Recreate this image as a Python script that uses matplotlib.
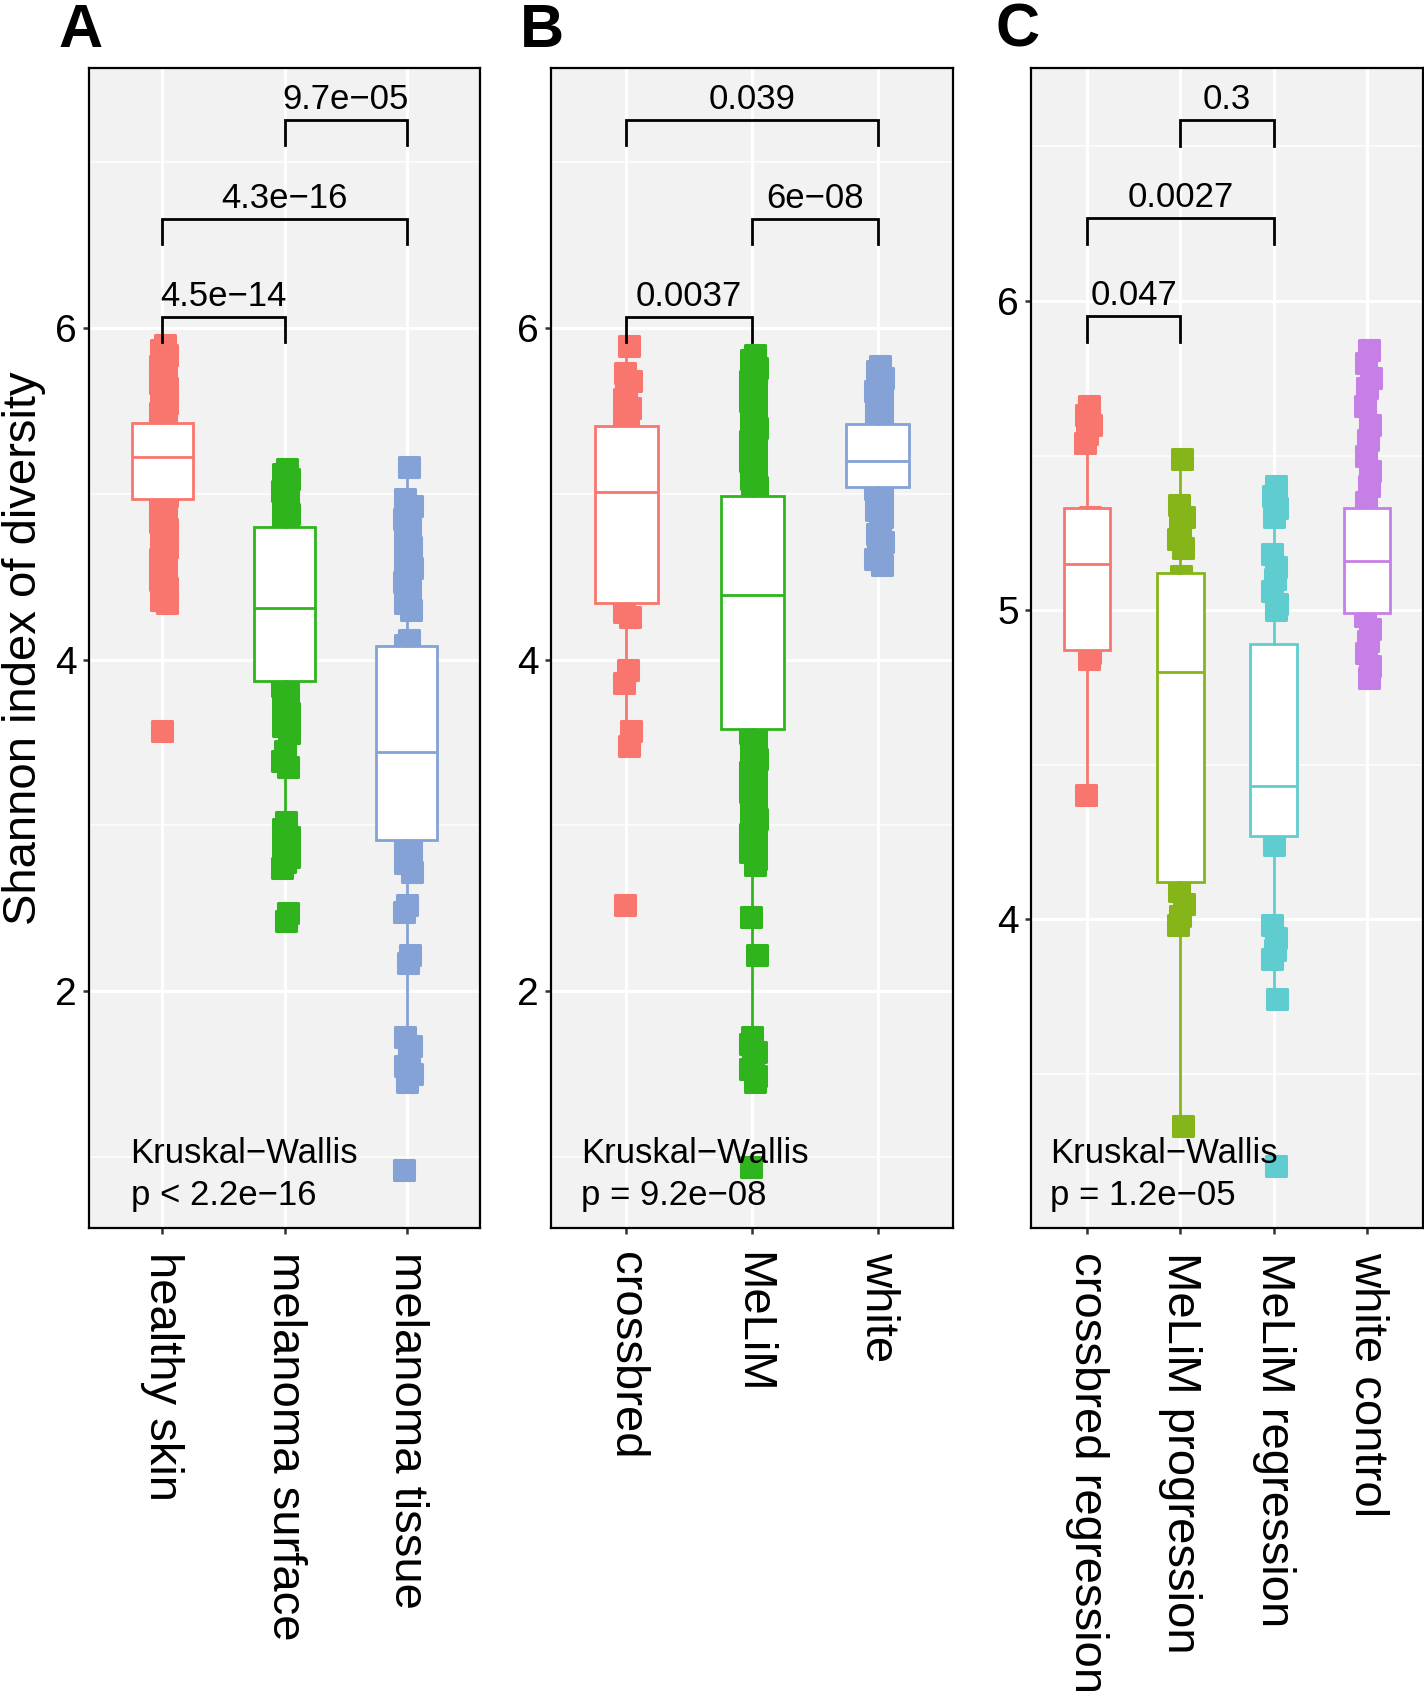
import numpy as np
import matplotlib.pyplot as plt
from matplotlib.markers import MarkerStyle

plt.rcParams['font.family'] = ['Liberation Sans', 'DejaVu Sans']

# ---------------- panel A : sample type ----------------
a_groups = ['healthy skin', 'melanoma surface', 'melanoma tissue']
a_colors = ['#F8766D', '#2FB41E', '#84A2D6']
a_points = [
    [5.90, 5.87, 5.84, 5.80, 5.77, 5.74, 5.70, 5.67, 5.64, 5.60, 5.58, 5.55, 5.51,
     5.49, 5.46, 5.43, 5.40, 5.37, 5.33, 5.30, 5.27, 5.25, 5.21, 5.18, 5.15, 5.12,
     5.08, 5.05, 5.02, 4.99, 4.96, 4.93, 4.89, 4.86, 4.83, 4.79, 4.76, 4.72, 4.68,
     4.65, 4.61, 4.56, 4.52, 4.48, 4.43, 4.40, 4.36, 4.34, 3.57],
    [5.15, 5.12, 5.09, 5.06, 5.02, 4.99, 4.95, 4.91, 4.88, 4.84, 4.80, 4.72, 4.63,
     4.55, 4.46, 4.37, 4.29, 4.20, 4.11, 4.03, 3.95, 3.87, 3.84, 3.80, 3.77, 3.72,
     3.68, 3.65, 3.60, 3.56, 3.45, 3.39, 3.35, 3.02, 2.98, 2.93, 2.89, 2.86, 2.81,
     2.78, 2.74, 2.47, 2.42],
    [5.16, 4.97, 4.93, 4.90, 4.85, 4.81, 4.77, 4.72, 4.68, 4.63, 4.60, 4.55, 4.51,
     4.47, 4.42, 4.38, 4.34, 4.30, 4.12, 4.09, 3.90, 3.70, 3.50, 3.30, 3.10, 2.88,
     2.85, 2.80, 2.77, 2.72, 2.52, 2.48, 2.22, 2.17, 1.72, 1.67, 1.61, 1.55, 1.50,
     1.45, 0.92],
]
a_q1 = [4.97, 3.87, 2.91]
a_med = [5.22, 4.31, 3.44]
a_q3 = [5.43, 4.80, 4.08]
a_wlo = [4.34, 2.74, 1.45]
a_whi = [5.90, 5.15, 5.16]
a_pairs = [(0, 1), (0, 2), (1, 2)]
a_plabels = ['4.5e\u221214', '4.3e\u221216', '9.7e\u221205']
a_kw = 'p < 2.2e\u221216'

# ---------------- panel B : pig line ----------------
b_groups = ['crossbred', 'MeLiM', 'white']
b_colors = ['#F8766D', '#2FB41E', '#84A2D6']
b_points = [
    [5.89, 5.73, 5.68, 5.62, 5.57, 5.52, 5.48, 5.44, 5.30, 5.10, 4.90, 4.70, 4.50,
     4.29, 4.26, 3.94, 3.86, 3.57, 3.48, 2.52],
    [5.84, 5.81, 5.76, 5.73, 5.68, 5.65, 5.60, 5.56, 5.53, 5.48, 5.45, 5.40, 5.37,
     5.32, 5.29, 5.24, 5.20, 5.17, 5.12, 5.09, 5.04, 5.01, 4.80, 4.40, 4.00, 3.56,
     3.52, 3.47, 3.44, 3.40, 3.35, 3.32, 3.28, 3.23, 3.20, 3.16, 3.11, 3.08, 3.04,
     3.00, 2.95, 2.92, 2.88, 2.84, 2.80, 2.76, 2.45, 2.22, 1.72, 1.68, 1.63, 1.58,
     1.53, 1.49, 1.45, 0.94],
    [5.77, 5.74, 5.70, 5.66, 5.62, 5.57, 5.53, 5.49, 5.45, 5.40, 5.30, 5.20, 5.10,
     5.03, 4.99, 4.95, 4.90, 4.86, 4.81, 4.76, 4.71, 4.66, 4.61, 4.57],
]
b_q1 = [4.34, 3.58, 5.04]
b_med = [5.01, 4.39, 5.20]
b_q3 = [5.41, 4.99, 5.42]
b_wlo = [3.48, 1.45, 4.57]
b_whi = [5.89, 5.84, 5.77]
b_pairs = [(0, 1), (1, 2), (0, 2)]
b_plabels = ['0.0037', '6e\u221208', '0.039']
b_kw = 'p = 9.2e\u221208'

# ---------------- panel C : group ----------------
c_groups = ['crossbred regression', 'MeLiM progression', 'MeLiM regression', 'white control']
c_colors = ['#F8766D', '#86B51A', '#5FCDD0', '#C77FE8']
c_points = [
    [5.66, 5.63, 5.60, 5.57, 5.54, 5.30, 5.15, 5.00, 4.86, 4.84, 4.40],
    [5.49, 5.34, 5.30, 5.27, 5.23, 5.20, 5.11, 4.90, 4.60, 4.30, 4.09, 4.05, 4.01,
     3.98, 3.33],
    [5.40, 5.37, 5.33, 5.30, 5.18, 5.14, 5.10, 5.06, 5.02, 5.00, 4.80, 4.60, 4.24,
     3.98, 3.94, 3.90, 3.87, 3.74, 3.20],
    [5.84, 5.80, 5.75, 5.72, 5.66, 5.60, 5.55, 5.50, 5.45, 5.40, 5.35, 5.25, 5.10,
     4.98, 4.94, 4.90, 4.86, 4.82, 4.78],
]
c_q1 = [4.87, 4.12, 4.27, 4.99]
c_med = [5.15, 4.80, 4.43, 5.16]
c_q3 = [5.33, 5.12, 4.89, 5.33]
c_wlo = [4.40, 3.33, 3.74, 4.78]
c_whi = [5.66, 5.49, 5.40, 5.84]
c_pairs = [(0, 1), (0, 2), (1, 2)]
c_plabels = ['0.047', '0.0027', '0.3']
c_kw = 'p = 1.2e\u221205'

jitter = [0.02, -0.01, 0.04, 0.0, -0.02, 0.03, 0.01, -0.015, 0.035]


def draw_panel(ax, groups, colors, points, q1, med, q3, wlo, whi,
               pairs, plabels, kw, ylim, yticks, yminor,
               br_base, br_step, br_tip, kw_x):
    n = len(groups)
    pos = np.arange(1, n + 1)
    ax.set_facecolor('#F2F2F2')

    sq = MarkerStyle('s', joinstyle='round')
    for i, vals in enumerate(points):
        xs = pos[i] + np.resize(jitter, len(vals))
        ax.scatter(xs, vals, marker=sq, s=205, c=colors[i],
                   edgecolors=colors[i], linewidths=2.2, zorder=2)

    stats = [dict(med=med[i], q1=q1[i], q3=q3[i], whislo=wlo[i],
                  whishi=whi[i], fliers=[]) for i in range(n)]
    bp = ax.bxp(stats, positions=pos, widths=0.5, patch_artist=True,
                showcaps=False, showfliers=False, zorder=3)
    for i, c in enumerate(colors):
        bp['boxes'][i].set(facecolor='white', edgecolor=c, linewidth=2.0)
        bp['medians'][i].set(color=c, linewidth=2.0)
        for w in bp['whiskers'][2 * i:2 * i + 2]:
            w.set(color=c, linewidth=2.0)

    # pairwise comparison brackets
    for k, ((i, j), lab) in enumerate(zip(pairs, plabels)):
        y = br_base + k * br_step
        x1, x2 = pos[i], pos[j]
        ax.plot([x1, x1, x2, x2], [y - br_tip, y, y, y - br_tip],
                color='black', lw=2.0, zorder=4, solid_joinstyle='miter')
        ax.annotate(lab, ((x1 + x2) / 2, y), xytext=(0, 8),
                    textcoords='offset points', ha='center', va='baseline',
                    fontsize=25)

    tr = ax.get_xaxis_transform()
    ax.text(kw_x, 0.056, 'Kruskal\u2212Wallis', transform=tr, fontsize=25,
            ha='left', va='baseline')
    ax.text(kw_x, 0.02, kw, transform=tr, fontsize=25, ha='left', va='baseline')

    ax.set_xlim(0.4, n + 0.6)
    ax.set_ylim(*ylim)
    ax.set_xticks(pos)
    ax.set_xticklabels(groups, rotation=270, ha='center', va='top', fontsize=34)
    ax.set_yticks(yticks)
    ax.set_yticklabels([('%g' % t) for t in yticks], fontsize=28)
    ax.set_yticks(yminor, minor=True)
    ax.tick_params(which='major', direction='out', length=4.5, width=1.8,
                   color='#333333', pad=4)
    ax.tick_params(axis='x', pad=13)
    ax.tick_params(which='minor', length=0)
    ax.grid(which='major', color='white', lw=2.2)
    ax.grid(which='minor', axis='y', color='white', lw=1.1)
    ax.set_axisbelow(True)
    for s in ax.spines.values():
        s.set_color('black')
        s.set_linewidth(1.6)


fig = plt.figure(figsize=(14.24, 17.0), dpi=100)
bottom, height = 0.2776, 0.6824
axA = fig.add_axes([0.0625, bottom, 0.2746, height])
axB = fig.add_axes([0.3869, bottom, 0.2825, height])
axC = fig.add_axes([0.7240, bottom, 0.2753, height])

draw_panel(axA, a_groups, a_colors, a_points, a_q1, a_med, a_q3, a_wlo, a_whi,
           a_pairs, a_plabels, a_kw, (0.57, 7.57), [2, 4, 6], [1, 3, 5, 7],
           6.066, 0.595, 0.15, 0.74)
draw_panel(axB, b_groups, b_colors, b_points, b_q1, b_med, b_q3, b_wlo, b_whi,
           b_pairs, b_plabels, b_kw, (0.57, 7.57), [2, 4, 6], [1, 3, 5, 7],
           6.066, 0.595, 0.15, 0.64)
draw_panel(axC, c_groups, c_colors, c_points, c_q1, c_med, c_q3, c_wlo, c_whi,
           c_pairs, c_plabels, c_kw, (3.0, 6.754), [4, 5, 6], [3.5, 4.5, 5.5, 6.5],
           5.951, 0.317, 0.084, 0.60)

fig.text(0.0015, bottom + height / 2, 'Shannon index of diversity', rotation=90,
         ha='left', va='center', fontsize=34)

for lab, x in zip(['A', 'B', 'C'], [0.041, 0.365, 0.699]):
    fig.text(x, 0.9724, lab, fontsize=44, fontweight='bold', va='baseline')

fig.savefig('out.png', dpi=100)
